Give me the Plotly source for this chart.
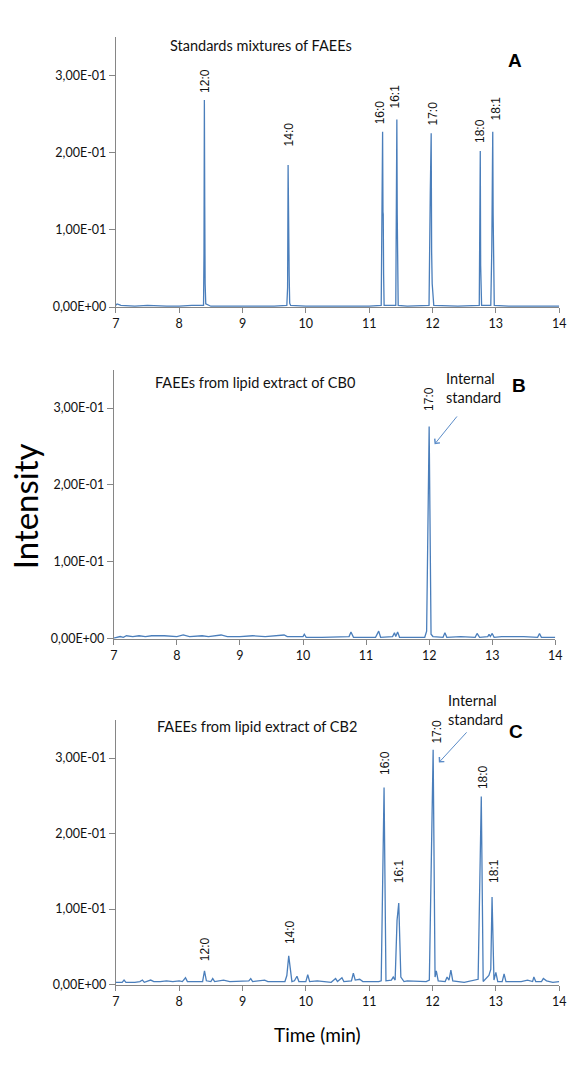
import plotly.graph_objects as go

# ---------------- data ----------------
# Panel A: standards mixture of FAEEs
time_a = [7.00, 7.02, 7.05, 7.08, 7.30, 7.50, 7.80, 8.00, 8.20, 8.385, 8.392, 8.398, 8.404, 8.41, 8.42,
          8.50, 9.00, 9.50, 9.700, 9.712, 9.720, 9.727, 9.737, 9.745, 9.760,
          10.00, 10.50, 11.00, 11.190, 11.203, 11.212, 11.218, 11.222, 11.228, 11.236,
          11.420, 11.428, 11.437, 11.443, 11.448, 11.458,
          11.60, 11.945, 11.965, 11.979, 11.986, 11.995, 12.02,
          12.40, 12.738, 12.748, 12.754, 12.760, 12.766, 12.775,
          12.920, 12.936, 12.946, 12.951, 12.957, 12.963, 12.975,
          13.20, 13.60, 14.00]
int_a = [0.002, 0.004, 0.003, 0.002, 0.001, 0.002, 0.001, 0.001, 0.002, 0.002, 0.070, 0.268, 0.130, 0.030, 0.004,
         0.001, 0.001, 0.001, 0.002, 0.025, 0.184, 0.060, 0.040, 0.005, 0.002,
         0.001, 0.001, 0.001, 0.002, 0.179, 0.227, 0.123, 0.120, 0.042, 0.002,
         0.002, 0.150, 0.243, 0.120, 0.050, 0.002,
         0.001, 0.002, 0.150, 0.225, 0.072, 0.030, 0.002,
         0.001, 0.002, 0.150, 0.202, 0.054, 0.030, 0.002,
         0.002, 0.076, 0.180, 0.227, 0.120, 0.040, 0.002,
         0.001, 0.001, 0.001]

# Panel B: FAEEs from lipid extract of CB0
time_b = [7.00, 7.05, 7.10, 7.15, 7.20, 7.30, 7.40, 7.50, 7.60, 7.80, 8.00, 8.10, 8.20, 8.40, 8.50, 8.70, 8.80,
          9.00, 9.20, 9.40, 9.60, 9.70, 9.75, 10.00, 10.02, 10.05, 10.30, 10.60, 10.73, 10.76, 10.80,
          11.15, 11.20, 11.23, 11.42, 11.45, 11.47, 11.50, 11.53, 11.93, 11.96, 12.00, 12.03, 12.06,
          12.22, 12.25, 12.28, 12.50, 12.73, 12.76, 12.80, 12.93, 12.95, 12.97, 13.00, 13.03, 13.15,
          13.50, 13.72, 13.75, 13.78, 14.00]
int_b = [0.001, 0.002, 0.003, 0.002, 0.004, 0.003, 0.004, 0.003, 0.004, 0.004, 0.003, 0.005, 0.003, 0.004, 0.003, 0.005, 0.003,
         0.003, 0.004, 0.003, 0.004, 0.005, 0.003, 0.003, 0.006, 0.002, 0.002, 0.003, 0.003, 0.009, 0.002,
         0.002, 0.010, 0.002, 0.003, 0.008, 0.003, 0.009, 0.002, 0.002, 0.010, 0.276, 0.006, 0.003,
         0.002, 0.008, 0.002, 0.003, 0.002, 0.007, 0.002, 0.003, 0.006, 0.003, 0.007, 0.002, 0.003,
         0.003, 0.002, 0.007, 0.002, 0.002]

# Panel C: FAEEs from lipid extract of CB2
time_c = [7.00, 7.10, 7.13, 7.16, 7.30, 7.38, 7.42, 7.45, 7.55, 7.60, 7.70, 7.80, 7.90, 8.00, 8.05, 8.10, 8.13,
          8.20, 8.30, 8.37, 8.40, 8.43, 8.50, 8.53, 8.56, 8.70, 8.80, 9.00, 9.10, 9.13, 9.16, 9.35, 9.40,
          9.67, 9.70, 9.73, 9.76, 9.78, 9.82, 9.86, 9.89, 10.00, 10.03, 10.06, 10.18, 10.40, 10.47, 10.50,
          10.57, 10.60, 10.72, 10.75, 10.78, 10.85, 10.90, 11.15, 11.19, 11.235, 11.265, 11.35, 11.38, 11.41,
          11.44, 11.467, 11.50, 11.55, 11.60, 11.90, 11.95, 12.01, 12.04, 12.06, 12.09, 12.20, 12.23, 12.26,
          12.29, 12.32, 12.50, 12.65, 12.72, 12.77, 12.80, 12.89, 12.92, 12.94, 12.97, 13.00, 13.03, 13.10,
          13.13, 13.16, 13.40, 13.50, 13.58, 13.60, 13.63, 13.72, 13.75, 13.80, 13.90, 14.00]
int_c = [0.003, 0.003, 0.006, 0.003, 0.003, 0.004, 0.006, 0.003, 0.006, 0.004, 0.004, 0.005, 0.004, 0.005, 0.004, 0.009, 0.004,
         0.004, 0.004, 0.004, 0.018, 0.005, 0.004, 0.008, 0.004, 0.006, 0.004, 0.005, 0.005, 0.008, 0.004, 0.006, 0.004,
         0.004, 0.012, 0.038, 0.015, 0.004, 0.005, 0.011, 0.004, 0.004, 0.013, 0.004, 0.005, 0.003, 0.008, 0.004,
         0.009, 0.004, 0.005, 0.015, 0.006, 0.007, 0.004, 0.004, 0.005, 0.261, 0.005, 0.006, 0.010, 0.006,
         0.085, 0.108, 0.010, 0.004, 0.005, 0.004, 0.006, 0.311, 0.010, 0.018, 0.005, 0.004, 0.010, 0.006,
         0.019, 0.005, 0.003, 0.006, 0.007, 0.249, 0.004, 0.012, 0.020, 0.116, 0.006, 0.016, 0.004, 0.004,
         0.014, 0.004, 0.004, 0.006, 0.004, 0.010, 0.004, 0.004, 0.008, 0.005, 0.003, 0.004]

# peak labels: (text, time, intensity at label centre)
labels_a = [("12:0", 8.41, 0.293), ("14:0", 9.74, 0.224), ("16:0", 11.17, 0.252), ("16:1", 11.40, 0.272),
            ("17:0", 12.00, 0.250), ("18:0", 12.75, 0.228), ("18:1", 13.00, 0.257)]
labels_b = [("17:0", 12.00, 0.312)]
labels_c = [("12:0", 8.40, 0.0475), ("14:0", 9.74, 0.070), ("16:0", 11.24, 0.294), ("16:1", 11.47, 0.150),
            ("17:0", 12.07, 0.335), ("18:0", 12.80, 0.275), ("18:1", 12.98, 0.150)]

panel_titles = ["Standards mixtures of FAEEs", "FAEEs from lipid extract of CB0", "FAEEs from lipid extract of CB2"]
panel_letters = ["A", "B", "C"]

y_tickvals = [0, 0.1, 0.2, 0.3]
y_ticktext = ["0,00E+00", "1,00E-01", "2,00E-01", "3,00E-01"]
x_tickvals = [7, 8, 9, 10, 11, 12, 13, 14]

# ---------------- figure ----------------
W, H = 576, 1080
LINE = "#4A7EBB"
AX = "#868686"
TICKFONT = dict(family="Lato, Open Sans, sans-serif", size=12.5, color="#111")


def px(x):
    return x / W


def py(y):
    return 1 - y / H


fig = go.Figure()
for i, (t, v) in enumerate([(time_a, int_a), (time_b, int_b), (time_c, int_c)]):
    sfx = "" if i == 0 else str(i + 1)
    fig.add_trace(go.Scatter(x=t, y=v, mode="lines", line=dict(color=LINE, width=1.3),
                             xaxis="x" + sfx, yaxis="y" + sfx, showlegend=False, hoverinfo="skip"))

# pixel geometry of each panel: (x_left, x_right, y_top, y_bottom)
geom = [(114, 566, 37, 309), (112, 562, 372, 643), (114, 566, 725, 991)]

layout = dict(width=W, height=H, margin=dict(l=0, r=0, t=0, b=0),
              paper_bgcolor="white", plot_bgcolor="white", showlegend=False)
for i, (xl, xr, yt, yb) in enumerate(geom):
    sfx = "" if i == 0 else str(i + 1)
    layout["xaxis" + sfx] = dict(domain=[px(xl), px(xr)], range=[7, 14], anchor="y" + sfx,
                                 tickvals=x_tickvals, showline=True, linecolor=AX, linewidth=1,
                                 ticks="outside", ticklen=5, tickcolor=AX, showgrid=False,
                                 zeroline=False, tickfont=TICKFONT, fixedrange=True,
                                 ticklabeloverflow="allow")
    layout["yaxis" + sfx] = dict(domain=[py(yb), py(yt)], range=[0, 0.35], anchor="x" + sfx,
                                 tickvals=y_tickvals, ticktext=y_ticktext, showline=True, linecolor=AX,
                                 linewidth=1, ticks="outside", ticklen=6, tickcolor=AX, showgrid=False,
                                 zeroline=False, tickfont=TICKFONT, fixedrange=True,
                                 ticklabeloverflow="allow")
fig.update_layout(**layout)

ann = []
LBLFONT = dict(family="Liberation Sans, Arial, sans-serif", size=12, color="#111")
for i, labs in enumerate([labels_a, labels_b, labels_c]):
    sfx = "" if i == 0 else str(i + 1)
    for txt, tx, ty in labs:
        ann.append(dict(text=txt, x=tx, y=ty, xref="x" + sfx, yref="y" + sfx, showarrow=False,
                        textangle=-90, xanchor="center", yanchor="middle", font=LBLFONT))

TITLEFONT = dict(family="Lato, Open Sans, sans-serif", size=14.5, color="#111")
title_pos = [(167, 46), (152, 385), (154, 731)]
for txt, (x0, y0) in zip(panel_titles, title_pos):
    ann.append(dict(text=txt, x=px(x0), y=py(y0), xref="paper", yref="paper", showarrow=False,
                    xanchor="left", yanchor="middle", font=TITLEFONT))

letter_pos = [(521, 61), (525, 388), (522, 736)]
for txt, (x0, y0) in zip(panel_letters, letter_pos):
    ann.append(dict(text="<b>" + txt + "</b>", x=px(x0), y=py(y0), xref="paper", yref="paper",
                    showarrow=False, xanchor="center", yanchor="middle",
                    font=dict(family="Liberation Sans, Arial, sans-serif", size=19, color="#000")))

# "Internal standard" notes
ISFONT = dict(family="Lato, Open Sans, sans-serif", size=14.5, color="#111")
for (x0, y0) in [(449, 390.5), (451, 714.5)]:
    ann.append(dict(text="Internal<br>standard", x=px(x0), y=py(y0), xref="paper", yref="paper",
                    showarrow=False, xanchor="left", yanchor="middle", align="left", font=ISFONT))

# arrows (head at x,y ; tail at ax,ay) in data coordinates
arrows = [("2", 12.086, 0.253, 12.46, 0.291), ("3", 12.10, 0.294, 12.56, 0.336)]
for sfx, hx, hy, tx, ty in arrows:
    ann.append(dict(text="", x=hx, y=hy, ax=tx, ay=ty, xref="x" + sfx, yref="y" + sfx,
                    axref="x" + sfx, ayref="y" + sfx, showarrow=True, arrowhead=4, arrowsize=1.3,
                    arrowwidth=1, arrowcolor="#5B8CC8"))

ann.append(dict(text="Intensity", x=px(21), y=py(510), xref="paper", yref="paper", showarrow=False,
                textangle=-90, xanchor="center", yanchor="middle",
                font=dict(family="Lato, Open Sans, sans-serif", size=33, color="#000")))
ann.append(dict(text="Time (min)", x=px(320), y=py(1041), xref="paper", yref="paper", showarrow=False,
                xanchor="center", yanchor="middle",
                font=dict(family="Lato, Open Sans, sans-serif", size=19, color="#000")))

fig.update_layout(annotations=ann)
fig.write_html("out.html", config={"displayModeBar": False},
               post_script="document.body.style.margin='0';document.body.style.overflow='hidden';")
